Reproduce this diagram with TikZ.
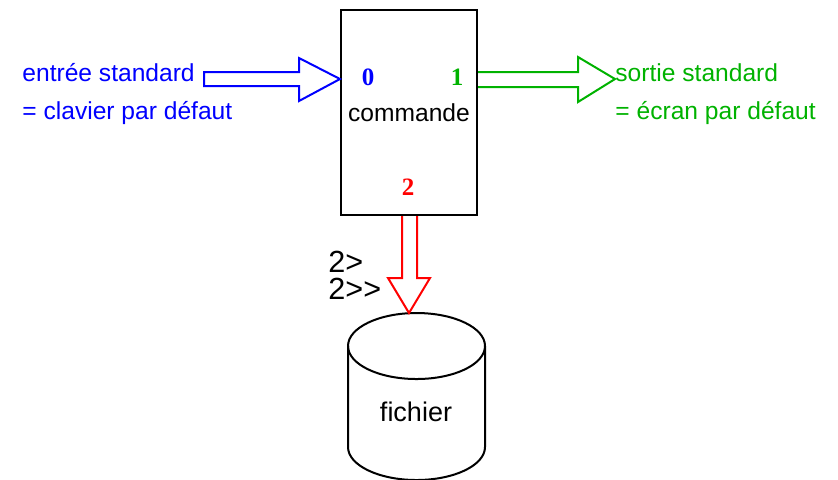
\documentclass[tikz,border=0pt]{standalone}
\usepackage{fontspec}
\setmainfont{Liberation Sans}
\newfontfamily\numfont{Liberation Serif}
\usetikzlibrary{calc}
\definecolor{outblue}{RGB}{0,0,255}
\definecolor{outgreen}{RGB}{0,178,0}
\definecolor{outred}{RGB}{255,0,0}
\tikzset{
  lbl/.style={inner sep=0pt, font=\fontsize{12.3}{14}\selectfont, anchor=west},
  redir/.style={inner sep=0pt, font=\fontsize{15.3}{13.5}\selectfont, anchor=west, align=left},
  num/.style={inner sep=0pt, font=\numfont\bfseries\fontsize{12.5}{14}\selectfont},
  blockarrow/.style={line width=1pt, line join=miter},
  boxstyle/.style={draw, line width=1pt, minimum width=68pt, minimum height=102.5pt, inner sep=0pt},
}
\begin{document}
\begin{tikzpicture}[x=0.5pt,y=-0.5pt]
\useasboundingbox (0,0) rectangle (838,479);
% command box
\node[boxstyle] (cmd) at (409,112.5) {};
\node[inner sep=0pt, font=\fontsize{12.3}{14}\selectfont] (cmdtxt) at (409,113) {commande};
\node[num, text=outblue] (n0) at (368,77) {0};
\node[num, text=outgreen] (n1) at (457,77) {1};
\node[num, text=outred] (n2) at (408,187) {2};
% labels left
\node[lbl, text=outblue] (inlbl) at (22,73) {entrée standard};
\node[lbl, text=outblue] (inlbl2) at (22,113) {= clavier par défaut};
% labels right
\node[lbl, text=outgreen] (outlbl) at (615,73) {sortie standard};
\node[lbl, text=outgreen] (outlbl2) at (615,113) {= écran par défaut};
% redirection labels
\node[redir] (redir) at (328,275.5) {2>\\2>{}>};
% cylinder
\coordinate (cyl) at (416.5,346);
\draw[line width=1pt] (cyl) ellipse [x radius=68.5, y radius=33];
\draw[line width=1pt] ($(cyl)+(-68.5,0)$) -- ($(cyl)+(-68.5,101)$)
   arc[start angle=180, end angle=360, x radius=68.5, y radius=-33]
   -- ($(cyl)+(68.5,0)$);
\node[inner sep=0pt, font=\fontsize{13.5}{15}\selectfont] (fichier) at (416,412) {fichier};
% input arrow
\coordinate (inA) at (204,79);
\coordinate (tipA) at (cmd.west |- inA);
\draw[blockarrow, outblue] ($(inA)+(0,-7)$) -- ($(tipA)+(-41,-7)$) -- ($(tipA)+(-41,-21)$) -- (tipA)
  -- ($(tipA)+(-41,22)$) -- ($(tipA)+(-41,7)$) -- ($(inA)+(0,7)$) -- cycle;
% output arrow
\coordinate (outA) at (cmd.east |- inA);
\coordinate (tipB) at (outlbl.west |- inA);
\draw[blockarrow, outgreen] ($(outA)+(0,-7)$) -- ($(tipB)+(-37,-7)$) -- ($(tipB)+(-37,-22)$) -- (tipB)
  -- ($(tipB)+(-37,23)$) -- ($(tipB)+(-37,8)$) -- ($(outA)+(0,8)$);
% error arrow
\coordinate (errA) at (cmd.south);
\coordinate (tipC) at (409,313);
\draw[blockarrow, outred] ($(errA)+(-7,0)$) -- ($(tipC)+(-7,-35)$) -- ($(tipC)+(-21,-35)$) -- (tipC)
  -- ($(tipC)+(21,-35)$) -- ($(tipC)+(8,-35)$) -- ($(errA)+(8,0)$);
\end{tikzpicture}
\end{document}
